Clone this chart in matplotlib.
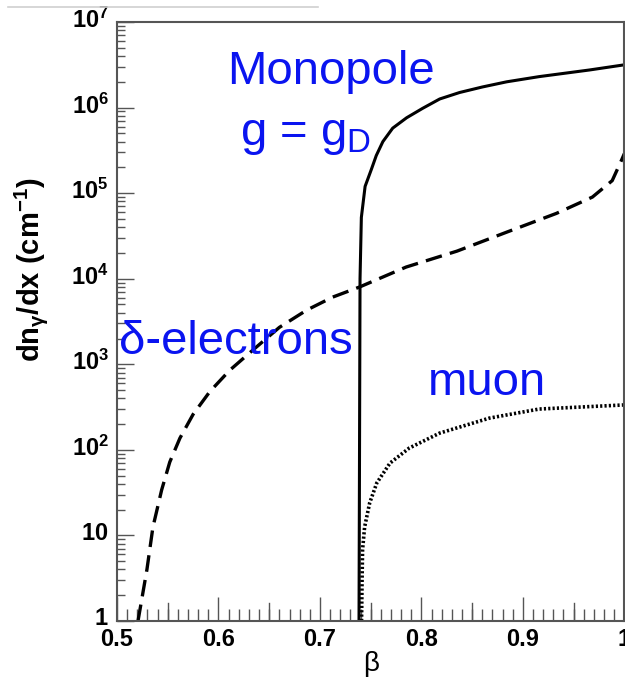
import matplotlib
matplotlib.use('Agg')
import matplotlib.pyplot as plt
import matplotlib.transforms as mtransforms
from matplotlib.lines import Line2D
from matplotlib.ticker import FixedLocator, FixedFormatter, MultipleLocator, LogLocator, NullFormatter

plt.rcParams['font.family'] = ['Liberation Sans', 'DejaVu Sans']
plt.rcParams['mathtext.fontset'] = 'custom'
plt.rcParams['mathtext.rm'] = 'Liberation Sans'
plt.rcParams['mathtext.bf'] = 'Liberation Sans:bold'
plt.rcParams['mathtext.it'] = 'Liberation Sans:italic'

# monopole with Dirac charge (solid)
beta_mono = [0.7385, 0.7390, 0.7395, 0.7408, 0.7445, 0.7507, 0.7555, 0.762,
             0.7717, 0.7854, 0.8012, 0.818, 0.8376, 0.860, 0.884, 0.916,
             0.9656, 1.0]
n_mono = [1, 100, 1.0e4, 5.2e4, 1.2e5, 1.9e5, 2.75e5, 4.0e5,
          5.75e5, 7.6e5, 9.8e5, 1.26e6, 1.5e6, 1.74e6, 2.0e6, 2.3e6,
          2.75e6, 3.16e6]

# delta electrons (dashed)
beta_delta = [0.5207, 0.5295, 0.5354, 0.544, 0.552, 0.562, 0.575, 0.5915,
              0.611, 0.634, 0.660, 0.687, 0.7126, 0.739, 0.785, 0.835,
              0.884, 0.933, 0.9685, 0.988, 0.997, 1.0]
n_delta = [1, 4, 12.5, 34, 72, 137, 260, 480,
           850, 1470, 2700, 4300, 6100, 8000, 1.37e4, 2.1e4,
           3.5e4, 5.8e4, 9.0e4, 1.4e5, 2.4e5, 2.9e5]

# muon (dotted)
beta_muon = [0.741, 0.7415, 0.742, 0.744, 0.749, 0.756, 0.769, 0.788,
             0.818, 0.867, 0.916, 1.0]
n_muon = [1, 3, 6.8, 12.5, 24, 41, 70, 105, 157, 235, 300, 335]

ytick_vals = [1, 10, 1e2, 1e3, 1e4, 1e5, 1e6, 1e7]
ytick_labels = [r'$\mathbf{1}$', r'$\mathbf{10}$'] + \
    [r'$\mathbf{10^{%d}}$' % k for k in range(2, 8)]
xtick_vals = [0.5, 0.6, 0.7, 0.8, 0.9, 1.0]
xtick_labels = ['0.5', '0.6', '0.7', '0.8', '0.9', '1']

fig = plt.figure(figsize=(6.25, 6.92), dpi=100)
ax = fig.add_axes([0.1872, 0.1026, 0.8118, 0.8656])

ax.plot(beta_mono, n_mono, color='black', lw=2.2, solid_capstyle='butt')
ax.plot(beta_delta, n_delta, color='black', lw=2.4, dashes=(5, 2.5))
ax.plot(beta_muon, n_muon, color='black', lw=2.6, dashes=(0.6, 0.6))

ax.set_yscale('log')
ax.set_xlim(0.5, 1.0)
ax.set_ylim(1, 1e7)

ax.yaxis.set_major_locator(FixedLocator(ytick_vals))
ax.yaxis.set_major_formatter(FixedFormatter(ytick_labels))
ax.yaxis.set_minor_locator(LogLocator(base=10, subs=range(2, 10), numticks=20))
ax.yaxis.set_minor_formatter(NullFormatter())
ax.xaxis.set_major_locator(FixedLocator(xtick_vals))
ax.xaxis.set_major_formatter(FixedFormatter(xtick_labels))
ax.xaxis.set_minor_locator(MultipleLocator(0.01))

ax.tick_params(axis='both', which='both', direction='in', color='#555555',
               top=False, right=False)
ax.tick_params(axis='x', which='major', length=17, width=1.0, pad=5,
               labelsize=17)
ax.tick_params(axis='x', which='minor', length=9, width=1.0)
ax.tick_params(axis='y', which='major', length=12, width=1.0, pad=6,
               labelsize=17)
ax.tick_params(axis='y', which='minor', length=6, width=1.0)
for lab in ax.get_xticklabels():
    lab.set_fontweight('bold')
# lift the decade labels a touch so "1" clears the beta labels
lift = mtransforms.ScaledTranslation(0, 3 / 72, fig.dpi_scale_trans)
for lab in ax.get_yticklabels():
    lab.set_transform(lab.get_transform() + lift)
# half-step ticks on the beta axis, same length as the labelled ones
for x in [0.55, 0.65, 0.75, 0.85, 0.95]:
    ax.plot([x, x], [1, 10 ** 0.21], color='#555555', lw=1.0)

for sp in ax.spines.values():
    sp.set_color('#555555')
    sp.set_linewidth(1.5)

ax.set_xlabel('β', fontsize=20, labelpad=0)
ax.set_ylabel(r'dn$_{\mathbf{\gamma}}$/dx (cm$^{\mathbf{-1}}$)', fontsize=21,
              fontweight='bold')
ax.yaxis.set_label_coords(-0.132, 0.586)

blue = '#0a14f0'
ax.text(0.7106, 10 ** 6.41, 'Monopole', color=blue, fontsize=34,
        ha='center', va='center')
ax.text(0.621, 10 ** 5.68, r'g = g$_{\mathregular{D}}$', color=blue,
        fontsize=34, ha='left', va='center')
ax.text(0.617, 10 ** 3.26, 'δ-electrons', color=blue, fontsize=34,
        ha='center', va='center')
ax.text(0.865, 10 ** 2.78, 'muon', color=blue, fontsize=34,
        ha='center', va='center')

fig.add_artist(Line2D([0.013, 0.509], [0.990, 0.990], color='#d0d0d0', lw=1.2))

fig.savefig('out.png', dpi=100)
